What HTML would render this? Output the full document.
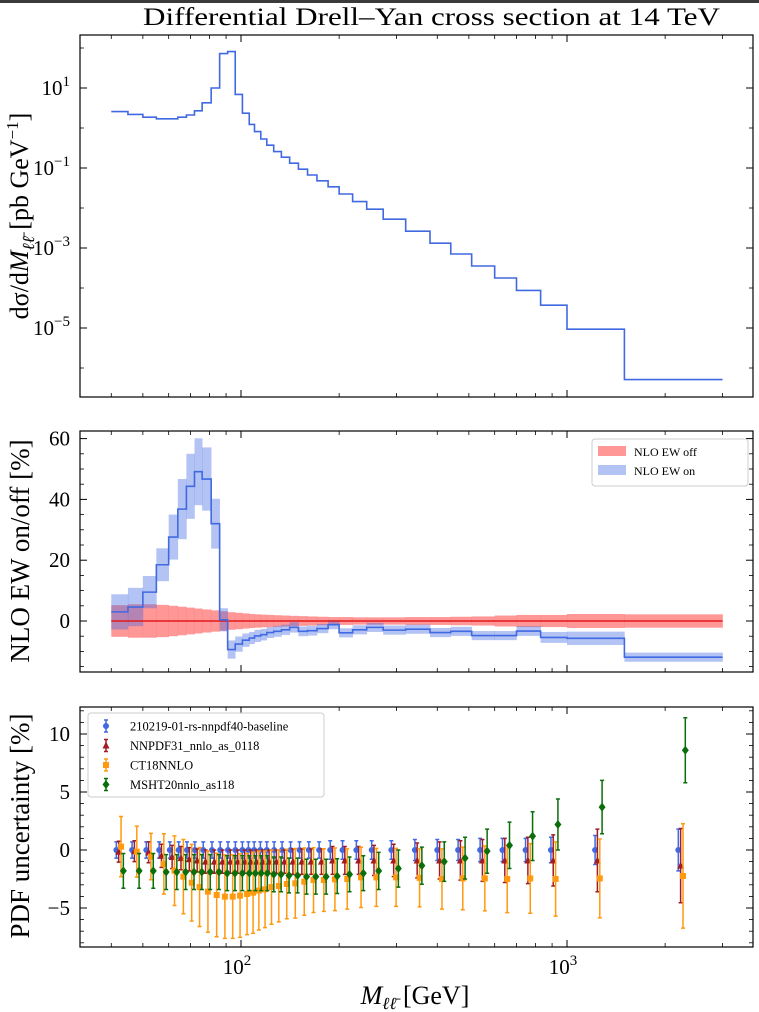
<!DOCTYPE html>
<html><head><meta charset="utf-8"><style>
html,body{margin:0;padding:0;background:#fff;}
svg{display:block;font-family:"Liberation Serif",serif;}
</style></head><body>
<svg id="chart" width="759" height="1012" viewBox="0 0 759 1012" xmlns="http://www.w3.org/2000/svg">
<rect x="0" y="0" width="759" height="1012" fill="#fff"/>
<rect x="0" y="0" width="759" height="3" fill="#3a3a3a"/>
<text x="143" y="25" font-size="25" textLength="577" lengthAdjust="spacingAndGlyphs">Differential Drell–Yan cross section at 14 TeV</text>
<g id="p1"></g>
<g id="p2"></g>
<g id="p3"></g>
<text transform="translate(28,216) rotate(-90)" font-size="26" text-anchor="middle">dσ/d<tspan font-style="italic">M</tspan><tspan font-size="17" dy="6" font-style="italic">ℓℓ̄</tspan><tspan dy="-6"> [pb GeV</tspan><tspan font-size="17" dy="-10">−1</tspan><tspan dy="10">]</tspan></text>
<text transform="translate(29,551) rotate(-90)" font-size="27" text-anchor="middle">NLO EW on/off [%]</text>
<text transform="translate(29,826) rotate(-90)" font-size="27" text-anchor="middle">PDF uncertainty [%]</text>
<text x="415" y="1004" font-size="26" text-anchor="middle"><tspan font-style="italic">M</tspan><tspan font-size="17" dy="5" font-style="italic">ℓℓ̄</tspan><tspan dy="-5"> [GeV]</tspan></text>
</svg>
<script>
const binEdges = [40,45,50,55,60,64,68,72,76,81,86,91,96,101,106,110,115,120,126,133,141,150,160,171,185,200,220,243,273,320,380,440,510,600,700,830,1000,1500,3000];
const xsecLog10 = [0.41,0.34,0.27,0.23,0.23,0.27,0.325,0.43,0.63,1.0,1.86,1.91,0.84,0.37,0.09,-0.09,-0.275,-0.43,-0.59,-0.73,-0.88,-1.03,-1.175,-1.32,-1.47,-1.65,-1.84,-2.03,-2.28,-2.58,-2.88,-3.15,-3.45,-3.75,-4.06,-4.43,-5.03,-6.29];
const ewOn = [3,4.6,9.5,18.5,27.6,36.8,44.3,49.1,46.7,32,0.4,-9.4,-7.6,-6.3,-5.6,-4.9,-4.5,-3.8,-3.4,-2.9,-2.1,-3.4,-3.2,-2.5,-1.2,-3.9,-2.9,-2.1,-3.0,-2.7,-3.8,-3.4,-4.8,-4.8,-3.3,-5.4,-5.7,-11.9];
const ewOnErr = [5.8,6.3,5.3,5.4,7.4,9.9,10.7,11,10.4,8.2,3.8,3,2.5,2.2,2,2,1.9,1.8,1.8,1.7,1.7,1.6,1.6,1.5,1.5,1.5,1.5,1.5,1.5,1.5,1.5,1.5,1.5,1.5,1.6,1.8,2.2,1.5];
const ewOffErr = [5.2,5.5,5.5,5.3,5.0,4.7,4.4,4.1,3.8,3.5,3.2,2.9,2.7,2.5,2.3,2.2,2.1,2.0,1.9,1.8,1.7,1.6,1.5,1.4,1.3,1.3,1.2,1.2,1.2,1.3,1.3,1.4,1.5,1.8,2.0,2.0,2.3,2.2];
const nnpdf40 = [0,0,0,0,0,0,0,0,0,0,0,0,0,0,0,0,0,0,0,0,0,0,0,0,0,0,0,0,0,0,0,0,0,0,0,0,0,0];
const nnpdf40Err = [0.7,0.7,0.7,0.7,0.7,0.7,0.7,0.7,0.7,0.7,0.7,0.7,0.7,0.7,0.7,0.7,0.7,0.7,0.7,0.7,0.7,0.7,0.7,0.7,0.8,0.8,0.8,0.8,0.8,0.9,0.9,0.9,1.0,1.0,1.0,1.1,1.25,1.8];
const nnpdf31 = [-0.15,-0.1,-0.2,-0.5,-0.6,-0.7,-0.8,-0.9,-1.0,-1.0,-1.0,-1.0,-1.0,-1.0,-1.0,-1.0,-1.0,-1.0,-1.0,-1.0,-1.0,-1.0,-1.0,-1.0,-0.9,-0.9,-0.9,-0.9,-0.9,-0.9,-0.9,-0.9,-0.9,-0.9,-0.9,-0.9,-0.9,-1.35];
const nnpdf31Err = [0.9,0.9,0.9,1.0,1.0,1.0,1.0,1.0,1.0,1.0,1.0,1.0,1.0,1.0,1.0,1.0,1.0,1.0,1.0,1.0,1.1,1.1,1.1,1.1,1.2,1.2,1.2,1.3,1.4,1.5,1.6,1.7,1.8,1.9,2.0,2.2,2.7,3.2];
const ct18 = [0.29,-0.14,-0.57,-1.2,-1.78,-2.3,-2.82,-3.2,-3.59,-3.88,-4.02,-4.02,-3.93,-3.79,-3.68,-3.5,-3.39,-3.2,-3.1,-2.93,-2.87,-2.73,-2.59,-2.59,-2.53,-2.5,-2.36,-2.36,-2.36,-2.4,-2.5,-2.45,-2.45,-2.5,-2.45,-2.5,-2.45,-2.24];
const ct18Err = [2.6,2.2,2.0,2.6,3.0,3.2,3.3,3.4,3.5,3.6,3.6,3.6,3.6,3.5,3.5,3.4,3.3,3.2,3.1,3.0,3.0,2.9,2.8,2.7,2.7,2.6,2.6,2.5,2.5,2.5,2.6,2.7,2.8,2.9,3.0,3.2,3.4,4.5];
const msht20 = [-1.8,-1.8,-1.8,-1.9,-1.9,-1.9,-1.9,-1.9,-1.9,-1.9,-2.0,-2.0,-2.0,-2.0,-2.0,-2.0,-2.0,-2.1,-2.1,-2.2,-2.2,-2.3,-2.3,-2.3,-2.25,-2.1,-2.0,-1.8,-1.6,-1.35,-1.0,-0.7,-0.1,0.4,1.2,2.2,3.7,8.6];
const msht20Err = [1.5,1.5,1.5,1.5,1.5,1.5,1.5,1.5,1.5,1.5,1.5,1.5,1.5,1.5,1.5,1.5,1.5,1.5,1.5,1.5,1.5,1.5,1.5,1.5,1.5,1.5,1.5,1.6,1.6,1.6,1.7,1.8,1.9,2.0,2.1,2.2,2.3,2.8];
const p1TickLabels = ["1","-1","-3","-5"];
const p2TickLabels = ["0","20","40","60"];
const p3TickLabels = ["-5","0","5","10"];
const xTickLabels = ["2","3"];

const NS = "http://www.w3.org/2000/svg";
const L = 80, R = 753;
const P = {p1:{t:35,b:397}, p2:{t:431,b:672}, p3:{t:707,b:947}};
const xs = m => 241 + 326*Math.log10(m/100);
const y1 = lv => 88 - (lv-1)*40;
const y2 = v => 621 - v*3.04;
const y3 = v => 850 - v*11.6;
const BLUE = "#4169e1", RED = "#e31a1c", ORANGE = "#ff9a10", GREEN = "#0a6e0a", DRED = "#a01d26";

function mk(parent, tag, attrs){
  const e = document.createElementNS(NS, tag);
  for (const k in attrs) e.setAttribute(k, attrs[k]);
  parent.appendChild(e);
  return e;
}
function stepPath(vals, yf){
  let d = "";
  for (let i=0;i<vals.length;i++){
    const x0 = xs(binEdges[i]), x1 = xs(binEdges[i+1]), y = yf(vals[i]);
    d += (i===0 ? "M"+x0+","+y : "L"+x0+","+y) + "L"+x1+","+y;
  }
  return d;
}
function frame(g, t, b, yMajor, yMinor, yf, labels, supLabels){
  const xMaj = [100,1000], xMin = [40,50,60,70,80,90,200,300,400,500,600,700,800,900,2000,3000];
  xMaj.forEach(m=>{ const x=xs(m);
    const a = mk(g,"line",{x1:x,x2:x,y1:b,y2:b-7,stroke:"#000","stroke-width":1});
     
    const c = mk(g,"line",{x1:x,x2:x,y1:t,y2:t+7,stroke:"#000","stroke-width":1});
     
  });
  xMin.forEach(m=>{ const x=xs(m);
    const a = mk(g,"line",{x1:x,x2:x,y1:b,y2:b-4,stroke:"#000","stroke-width":0.8});
     
    const c = mk(g,"line",{x1:x,x2:x,y1:t,y2:t+4,stroke:"#000","stroke-width":0.8});
     
  });
  yMajor.forEach((v,i)=>{ const y=yf(v);
    const a = mk(g,"line",{x1:L,x2:L+7,y1:y,y2:y,stroke:"#000","stroke-width":1});
     
    const c = mk(g,"line",{x1:R,x2:R-7,y1:y,y2:y,stroke:"#000","stroke-width":1});
     
    const tx = mk(g,"text",{x:L-10,y:y+7,"font-size":21,"text-anchor":"end"});
     
    if (supLabels){
      tx.appendChild(document.createTextNode("10"));
      const s = mk(tx,"tspan",{dy:-9,"font-size":15}); s.textContent = labels[i].replace("-","−");
    } else tx.textContent = labels[i].replace("-","−");
  });
  yMinor.forEach(v=>{ const y=yf(v);
    const a = mk(g,"line",{x1:L,x2:L+4,y1:y,y2:y,stroke:"#000","stroke-width":0.8});
     
    const c = mk(g,"line",{x1:R,x2:R-4,y1:y,y2:y,stroke:"#000","stroke-width":0.8});
     
  });
  const r = mk(g,"rect",{x:L,y:t,width:R-L,height:b-t,fill:"none",stroke:"#000","stroke-width":1.2});
   
}

const g1 = document.getElementById("p1");
const line1 = mk(g1,"path",{d:stepPath(xsecLog10,y1),fill:"none",stroke:BLUE,"stroke-width":1.6});
 
frame(g1,P.p1.t,P.p1.b,[1,-1,-3,-5],[2,0,-2,-4,-6],y1,p1TickLabels,true);

const g2 = document.getElementById("p2");
ewOffErr.forEach((e,i)=>{
  const x0=xs(binEdges[i]), x1=xs(binEdges[i+1]);
  const r = mk(g2,"rect",{x:x0,y:y2(e),width:x1-x0+0.3,height:y2(-e)-y2(e),fill:"#ff6b6b","fill-opacity":0.7});
   
});
ewOn.forEach((v,i)=>{
  const x0=xs(binEdges[i]), x1=xs(binEdges[i+1]);
  const r = mk(g2,"rect",{x:x0,y:y2(v+ewOnErr[i]),width:x1-x0+0.3,height:y2(v-ewOnErr[i])-y2(v+ewOnErr[i]),fill:BLUE,"fill-opacity":0.4});
   
});
const offLine = mk(g2,"path",{d:stepPath(ewOn.map(()=>0),y2),fill:"none",stroke:RED,"stroke-width":1.5});
 
const onLine = mk(g2,"path",{d:stepPath(ewOn,y2),fill:"none",stroke:BLUE,"stroke-width":1.6});
 
frame(g2,P.p2.t,P.p2.b,[0,20,40,60],[-15,-10,-5,5,10,15,25,30,35,45,50,55],y2,p2TickLabels,false);
const lg2 = mk(g2,"g",{});
 
const lb2 = mk(lg2,"rect",{x:592,y:439,width:156,height:47,rx:3,fill:"#fff","fill-opacity":0.85,stroke:"#ccc"});
 
[["NLO EW off","#ff6b6b",0.7,"legend-entry-ew-off"],["NLO EW on",BLUE,0.4,"legend-entry-ew-on"]].forEach((e,i)=>{
  const sw = mk(lg2,"rect",{x:598,y:446+i*19,width:28,height:10,fill:e[1],"fill-opacity":e[2]});
   
  const tx = mk(lg2,"text",{x:634,y:456+i*19,"font-size":12});
   
  tx.textContent = e[0];
});

const g3 = document.getElementById("p3");
function marker(g, type, x, y, color){
  let e;
  if (type==="circle") e = mk(g,"circle",{cx:x,cy:y,r:3,fill:color});
  else if (type==="tri") e = mk(g,"polygon",{points:(x)+","+(y-4)+" "+(x-3.5)+","+(y+3)+" "+(x+3.5)+","+(y+3),fill:color});
  else if (type==="sq") e = mk(g,"rect",{x:x-3,y:y-3,width:6,height:6,fill:color});
  else e = mk(g,"polygon",{points:x+","+(y-4.5)+" "+(x+3.5)+","+y+" "+x+","+(y+4.5)+" "+(x-3.5)+","+y,fill:color});
  return e;
}
const series3 = [
  {vals:nnpdf40,errs:nnpdf40Err,color:BLUE,type:"circle",off:-3.5,name:"210219-01-rs-nnpdf40-baseline",id:"nnpdf40"},
  {vals:nnpdf31,errs:nnpdf31Err,color:DRED,type:"tri",off:-1.2,name:"NNPDF31_nnlo_as_0118",id:"nnpdf31"},
  {vals:ct18,errs:ct18Err,color:ORANGE,type:"sq",off:1.2,name:"CT18NNLO",id:"ct18"},
  {vals:msht20,errs:msht20Err,color:GREEN,type:"dia",off:3.5,name:"MSHT20nnlo_as118",id:"msht20"}
];
series3.forEach(s=>{
  const sg = mk(g3,"g",{});
   
  s.vals.forEach((v,i)=>{
    const x = xs((binEdges[i]+binEdges[i+1])/2) + s.off;
    const yt = y3(v+s.errs[i]), yb = y3(v-s.errs[i]);
    const eb = mk(sg,"path",{d:"M"+x+","+yt+"L"+x+","+yb+"M"+(x-2)+","+yt+"L"+(x+2)+","+yt+"M"+(x-2)+","+yb+"L"+(x+2)+","+yb,stroke:s.color,"stroke-width":1.5,fill:"none"});
     
    const m = marker(sg,s.type,x,y3(v),s.color);
     
  });
});
frame(g3,P.p3.t,P.p3.b,[-5,0,5,10],[-8,-7,-6,-4,-3,-2,-1,1,2,3,4,6,7,8,9,11,12],y3,p3TickLabels,false);
const lg3 = mk(g3,"g",{});
 
const lb3 = mk(lg3,"rect",{x:88,y:713,width:236,height:84,rx:3,fill:"#fff","fill-opacity":0.85,stroke:"#ccc"});
 
series3.forEach((s,i)=>{
  const y = 726 + i*19.5, x = 106;
  const eb = mk(lg3,"path",{d:"M"+x+","+(y-6)+"L"+x+","+(y+6)+"M"+(x-2)+","+(y-6)+"L"+(x+2)+","+(y-6)+"M"+(x-2)+","+(y+6)+"L"+(x+2)+","+(y+6),stroke:s.color,"stroke-width":1.5});
   
  const m = marker(lg3,s.type,x,y,s.color);
   
  const tx = mk(lg3,"text",{x:130,y:y+4.5,"font-size":12.5});
   
  tx.textContent = s.name;
});
const svg = document.getElementById("chart");
[100,1000].forEach((m,i)=>{
  const tx = mk(svg,"text",{x:xs(m)-4,y:974,"font-size":21,"text-anchor":"middle"});
   
  tx.appendChild(document.createTextNode("10"));
  const s = mk(tx,"tspan",{dy:-9,"font-size":15}); s.textContent = xTickLabels[i];
});
</script>
</body></html>
